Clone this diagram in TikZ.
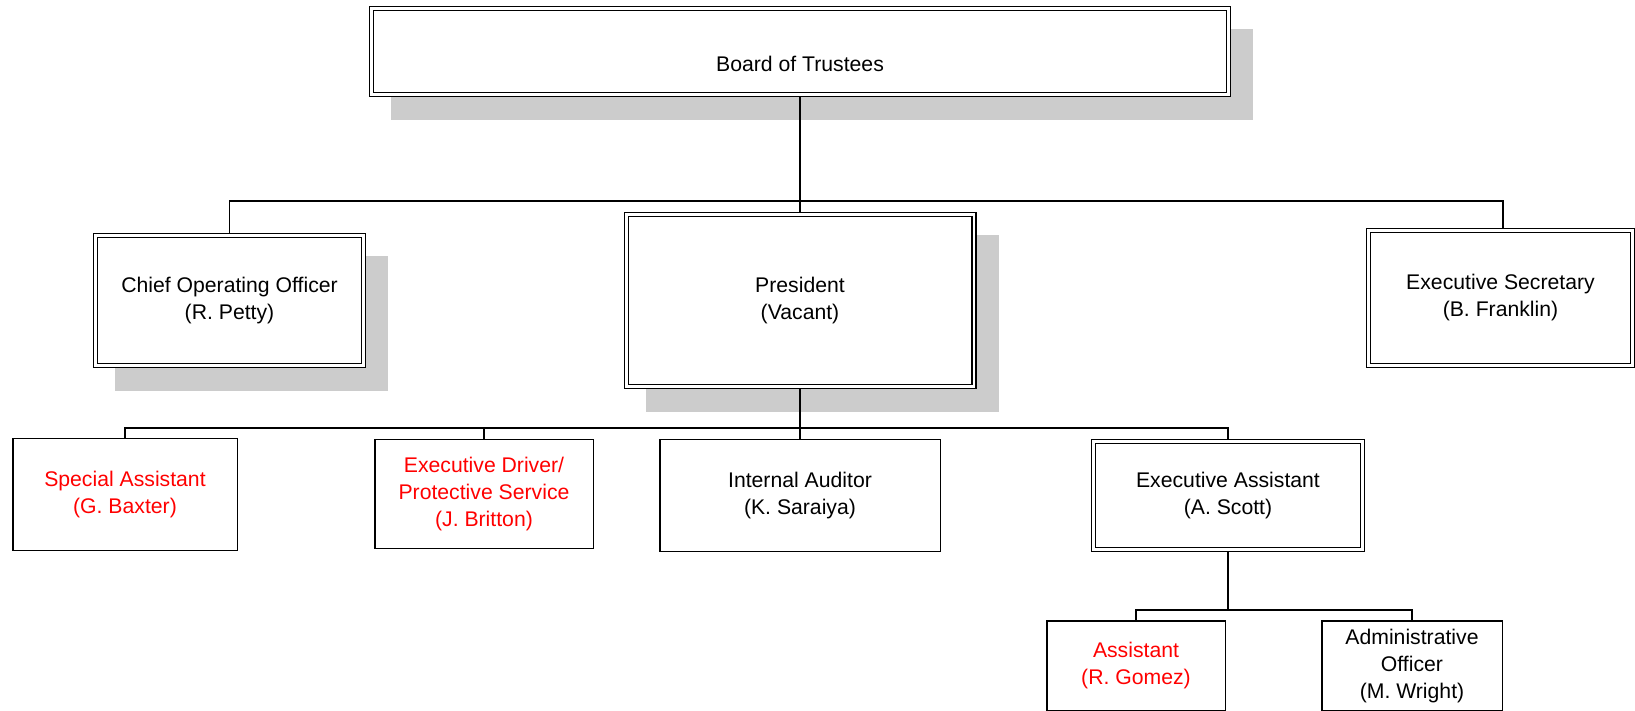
\documentclass[tikz,border=0pt]{standalone}
\usepackage{fontspec}
\setmainfont{Liberation Sans}
\usetikzlibrary{shadows}
\tikzset{
  box/.style={draw, line width=0.75pt, fill=white, inner sep=0pt, align=center,
    font=\fontsize{10.6}{13.5}\selectfont},
  dbox/.style={box, line width=0.6pt, double=white, double distance=1.4pt, outer sep=1.3pt},
  shade/.style={drop shadow={shadow xshift=11pt, shadow yshift=-11.5pt, fill=black!20, draw=black!20, line width=2.6pt, opacity=1}},
  vac/.style={text=red},
  wire/.style={line width=0.9pt},
}
\begin{document}
\begin{tikzpicture}[x=0.5pt,y=-0.5pt]
\useasboundingbox (0,0) rectangle (1635,711);
\clip (0,0) rectangle (1635,711);
\node[dbox,shade,minimum width=428.4pt,minimum height=42.9pt,text height=20.4pt,text depth=0pt] (board) at (800,51.5) {Board of Trustees};
\node[dbox,shade,minimum width=133.9pt,minimum height=64.9pt] (coo) at (229.5,300.5) {Chief Operating Officer\\(R. Petty)};
\node[dbox,shade,minimum width=173.9pt,minimum height=85.9pt] (pres) at (800,300.5) {President\\(Vacant)};
\node[dbox,minimum width=131.9pt,minimum height=67.4pt] (es) at (1500.5,298) {Executive Secretary\\(B. Franklin)};
\node[box,vac,minimum width=112.25pt,minimum height=55.75pt] (sa) at (125,494.5) {Special Assistant\\(G. Baxter)};
\node[box,vac,minimum width=109.25pt,minimum height=54.25pt] (ed) at (484,494) {Executive Driver/\\Protective Service\\(J. Britton)};
\node[box,minimum width=140.25pt,minimum height=55.75pt] (ia) at (800,495.5) {Internal Auditor\\(K. Saraiya)};
\node[dbox,minimum width=134.4pt,minimum height=53.9pt] (ea) at (1228,495.5) {Executive Assistant\\(A. Scott)};
\node[box,vac,minimum width=89.25pt,minimum height=45pt] (asst) at (1136,665.75) {Assistant\\(R. Gomez)};
\node[box,minimum width=90.25pt,minimum height=45pt] (ao) at (1412,665.75) {Administrative\\Officer\\(M. Wright)};
\coordinate (b1) at (800,201);
\coordinate (b2) at (800,428);
\coordinate (b3) at (1228,610);
\draw[wire] (board.south) -- (pres.north);
\draw[wire] (b1) -| (coo.north);
\draw[wire] (b1) -| ([xshift=1.25pt]es.north);
\draw[wire] (pres.south) -- (ia.north);
\draw[wire] (b2) -| (sa.north);
\draw[wire] (b2) -| (ed.north);
\draw[wire] (b2) -| (ea.north);
\draw[wire] (ea.south) -- (b3);
\draw[wire] (b3) -| (asst.north);
\draw[wire] (b3) -| (ao.north);
\end{tikzpicture}
\end{document}
